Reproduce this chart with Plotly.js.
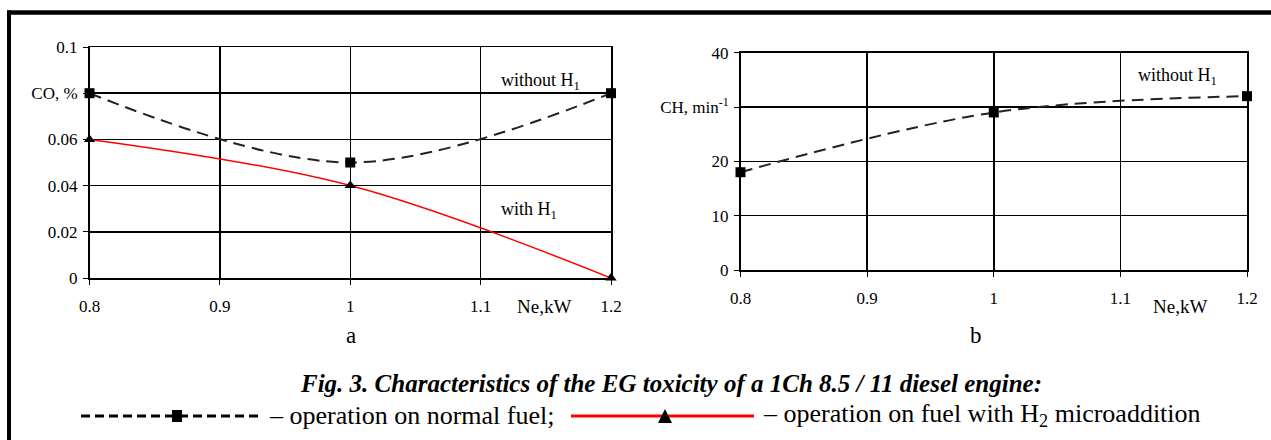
<!DOCTYPE html>
<html>
<head>
<meta charset="utf-8">
<script src="https://cdn.plot.ly/plotly-3.0.1.min.js"></script>
<style>html,body{margin:0;padding:0;background:#fff;}#chart{width:1271px;height:440px;}</style>
</head>
<body>
<div id="chart"></div>
<script>
// ---- data ----
const neKW = [0.8, 1.0, 1.2];
const coWithoutH = [0.08, 0.05, 0.08];
const coWithH = [0.06, 0.04, 0.0];
const chWithoutH = [18, 29, 32];

const xTickVals = [0.8, 0.9, 1.0, 1.1, 1.2];
const xTickText = ['0.8', '0.9', '1', '1.1', '1.2'];
const coTickVals = [0, 0.02, 0.04, 0.06, 0.08, 0.1];
const coTickText = ['0', '0.02', '0.04', '0.06', 'CO, %', '0.1'];
const chTickVals = [0, 10, 20, 30, 40];
const chTickText = ['0', '10', '20', 'CH, min<sup>-1</sup>', '40'];

const W = 1271, H = 440;
const px = v => v / W;
const py = v => 1 - v / H;
const SERIF = 'Liberation Serif';

const dashLine = {color: '#222', width: 2, dash: '12px,7px', shape: 'spline'};
const redLine = {color: '#ff0000', width: 1.5, shape: 'spline'};

const traces = [
  {x: neKW, y: coWithoutH, xaxis: 'x', yaxis: 'y', mode: 'lines+markers', line: dashLine,
   marker: {symbol: 'square', size: 10, color: '#000'}, cliponaxis: false, showlegend: false},
  {x: neKW, y: coWithH, xaxis: 'x', yaxis: 'y', mode: 'lines+markers', line: redLine,
   marker: {symbol: 'triangle-up', size: 10, color: '#000'}, cliponaxis: false, showlegend: false},
  {x: neKW, y: chWithoutH, xaxis: 'x2', yaxis: 'y2', mode: 'lines+markers', line: dashLine,
   marker: {symbol: 'square', size: 10, color: '#000'}, cliponaxis: false, showlegend: false}
];

function xAxis(domain, anchor) {
  return {domain: domain, anchor: anchor, range: [0.8, 1.2], tickvals: xTickVals, ticktext: xTickText,
    showgrid: true, gridcolor: '#000', gridwidth: 1.5, showline: true, linecolor: '#000', linewidth: 1.5,
    mirror: true, ticks: 'outside', ticklen: 5, tickcolor: '#000', zeroline: false,
    ticklabelstandoff: 7, tickfont: {family: SERIF, size: 17, color: '#000'}, fixedrange: true};
}
function yAxis(domain, anchor, range, vals, text) {
  return {domain: domain, anchor: anchor, range: range, tickvals: vals, ticktext: text,
    showgrid: true, gridcolor: '#000', gridwidth: 1.5, showline: true, linecolor: '#000', linewidth: 1.5,
    mirror: true, ticks: 'outside', ticklen: 5, tickcolor: '#000', zeroline: false,
    ticklabelstandoff: 2, tickfont: {family: SERIF, size: 17, color: '#000'}, fixedrange: true};
}

const layout = {
  width: W, height: H, autosize: false,
  margin: {l: 0, r: 0, t: 0, b: 0, pad: 0},
  paper_bgcolor: '#fff', plot_bgcolor: '#fff',
  showlegend: false,
  xaxis: xAxis([px(89.5), px(611)], 'y'),
  yaxis: yAxis([1 - 278 / H, 1 - 47 / H], 'x', [0, 0.1], coTickVals, coTickText),
  xaxis2: xAxis([px(740.5), px(1247)], 'y2'),
  yaxis2: yAxis([1 - 270 / H, 1 - 52.7 / H], 'x2', [0, 40], chTickVals, chTickText),
  shapes: [
    // frame
    {type: 'line', xref: 'paper', yref: 'paper', x0: px(7), x1: 1, y0: py(12.5), y1: py(12.5), line: {color: '#000', width: 4.5}},
    {type: 'line', xref: 'paper', yref: 'paper', x0: px(9), x1: px(9), y0: py(10.5), y1: 0, line: {color: '#000', width: 4}},
    // legend sample 1: dashed + square
    {type: 'line', xref: 'paper', yref: 'paper', x0: px(81), x1: px(262), y0: py(416), y1: py(416), line: {color: '#000', width: 3, dash: '9px,5px'}},
    {type: 'rect', xref: 'paper', yref: 'paper', x0: px(172), x1: px(182), y0: py(422), y1: py(410), fillcolor: '#000', line: {width: 0}},
    // legend sample 2: red + triangle
    {type: 'line', xref: 'paper', yref: 'paper', x0: px(571), x1: px(754), y0: py(416), y1: py(416), line: {color: '#ff0000', width: 3}},
    {type: 'path', xref: 'paper', yref: 'paper',
     path: 'M ' + px(658) + ' ' + py(423) + ' L ' + px(672) + ' ' + py(423) + ' L ' + px(665) + ' ' + py(409) + ' Z',
     fillcolor: '#000', line: {width: 0}}
  ],
  annotations: [
    {xref: 'paper', yref: 'paper', x: px(499), y: py(81), xanchor: 'left', yanchor: 'middle', showarrow: false,
     text: 'without H<sub>1</sub>', font: {family: SERIF, size: 18, color: '#000'}},
    {xref: 'paper', yref: 'paper', x: px(499), y: py(210), xanchor: 'left', yanchor: 'middle', showarrow: false,
     text: 'with H<sub>1</sub>', font: {family: SERIF, size: 18, color: '#000'}},
    {xref: 'paper', yref: 'paper', x: px(1136), y: py(76), xanchor: 'left', yanchor: 'middle', showarrow: false,
     text: 'without H<sub>1</sub>', font: {family: SERIF, size: 18, color: '#000'}},
    {xref: 'paper', yref: 'paper', x: px(544), y: py(306), xanchor: 'center', yanchor: 'middle', showarrow: false,
     text: 'Ne,kW', font: {family: SERIF, size: 19, color: '#000'}},
    {xref: 'paper', yref: 'paper', x: px(1180), y: py(306), xanchor: 'center', yanchor: 'middle', showarrow: false,
     text: 'Ne,kW', font: {family: SERIF, size: 19, color: '#000'}},
    {xref: 'paper', yref: 'paper', x: px(351), y: py(335), xanchor: 'center', yanchor: 'middle', showarrow: false,
     text: 'a', font: {family: SERIF, size: 23, color: '#000'}},
    {xref: 'paper', yref: 'paper', x: px(976), y: py(335), xanchor: 'center', yanchor: 'middle', showarrow: false,
     text: 'b', font: {family: SERIF, size: 23, color: '#000'}},
    {xref: 'paper', yref: 'paper', x: px(671), y: py(383), xanchor: 'center', yanchor: 'middle', showarrow: false,
     text: '<b><i>Fig. 3. Characteristics of the EG toxicity of a 1Ch 8.5 / 11 diesel engine:</i></b>',
     font: {family: SERIF, size: 25, color: '#000'}},
    {xref: 'paper', yref: 'paper', x: px(267), y: py(415), xanchor: 'left', yanchor: 'middle', showarrow: false,
     text: '– operation on normal fuel;', font: {family: SERIF, size: 26, color: '#000'}},
    {xref: 'paper', yref: 'paper', x: px(761), y: py(415), xanchor: 'left', yanchor: 'middle', showarrow: false,
     text: '– operation on fuel with H<sub>2</sub> microaddition', font: {family: SERIF, size: 26, color: '#000'}}
  ]
};

Plotly.newPlot('chart', traces, layout, {staticPlot: true, displayModeBar: false});
</script>
</body>
</html>
